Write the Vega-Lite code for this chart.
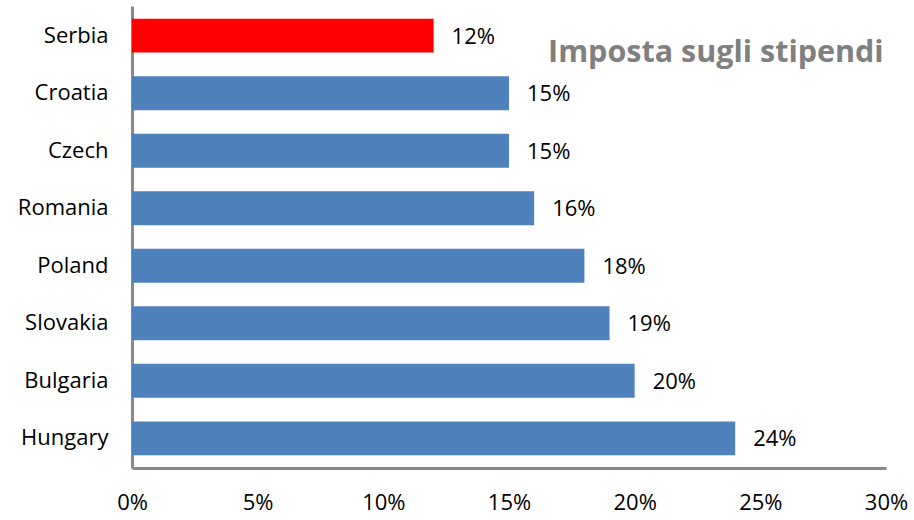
{
  "$schema": "https://vega.github.io/schema/vega-lite/v6.json",
  "autosize": {"type": "none"},
  "width": 754,
  "height": 462,
  "padding": {"left": 132, "top": 6, "right": 28, "bottom": 52},
  "background": "white",
  "title": {
    "text": "Imposta sugli stipendi",
    "anchor": "end",
    "orient": "top",
    "offset": 0,
    "baseline": "alphabetic",
    "dy": 86,
    "dx": -24,
    "font": "Open Sans",
    "fontSize": 30.5,
    "fontWeight": "bold",
    "color": "#808080"
  },
  "data": {
    "values": [
      {"country": "Serbia", "value": 0.12, "highlight": "yes"},
      {"country": "Croatia", "value": 0.15, "highlight": "no"},
      {"country": "Czech", "value": 0.15, "highlight": "no"},
      {"country": "Romania", "value": 0.16, "highlight": "no"},
      {"country": "Poland", "value": 0.18, "highlight": "no"},
      {"country": "Slovakia", "value": 0.19, "highlight": "no"},
      {"country": "Bulgaria", "value": 0.20, "highlight": "no"},
      {"country": "Hungary", "value": 0.24, "highlight": "no"}
    ]
  },
  "config": {
    "view": {"stroke": null},
    "axis": {
      "domainColor": "#898989",
      "domainWidth": 3,
      "ticks": false,
      "grid": false,
      "labelFont": "Open Sans",
      "labelFontSize": 22,
      "labelColor": "black",
      "title": null
    }
  },
  "encoding": {
    "y": {
      "field": "country",
      "type": "nominal",
      "sort": null,
      "scale": {"paddingInner": 0.41, "paddingOuter": 0.22},
      "axis": {"labelPadding": 24}
    },
    "x": {
      "field": "value",
      "type": "quantitative",
      "scale": {"domain": [0, 0.3], "nice": false},
      "axis": {
        "values": [0, 0.05, 0.1, 0.15, 0.2, 0.25, 0.3],
        "format": ".0%",
        "labelPadding": 24,
        "labelFlush": false,
        "labelOverlap": false
      }
    }
  },
  "layer": [
    {
      "mark": {"type": "bar"},
      "encoding": {
        "color": {
          "field": "highlight",
          "type": "nominal",
          "scale": {"domain": ["yes", "no"], "range": ["#FF0000", "#4F81BD"]},
          "legend": null
        }
      }
    },
    {
      "mark": {"type": "text", "align": "left", "baseline": "middle", "dx": 18, "dy": 1, "font": "Open Sans", "fontSize": 22, "color": "black"},
      "encoding": {
        "text": {"field": "value", "type": "quantitative", "format": ".0%"}
      }
    }
  ]
}
